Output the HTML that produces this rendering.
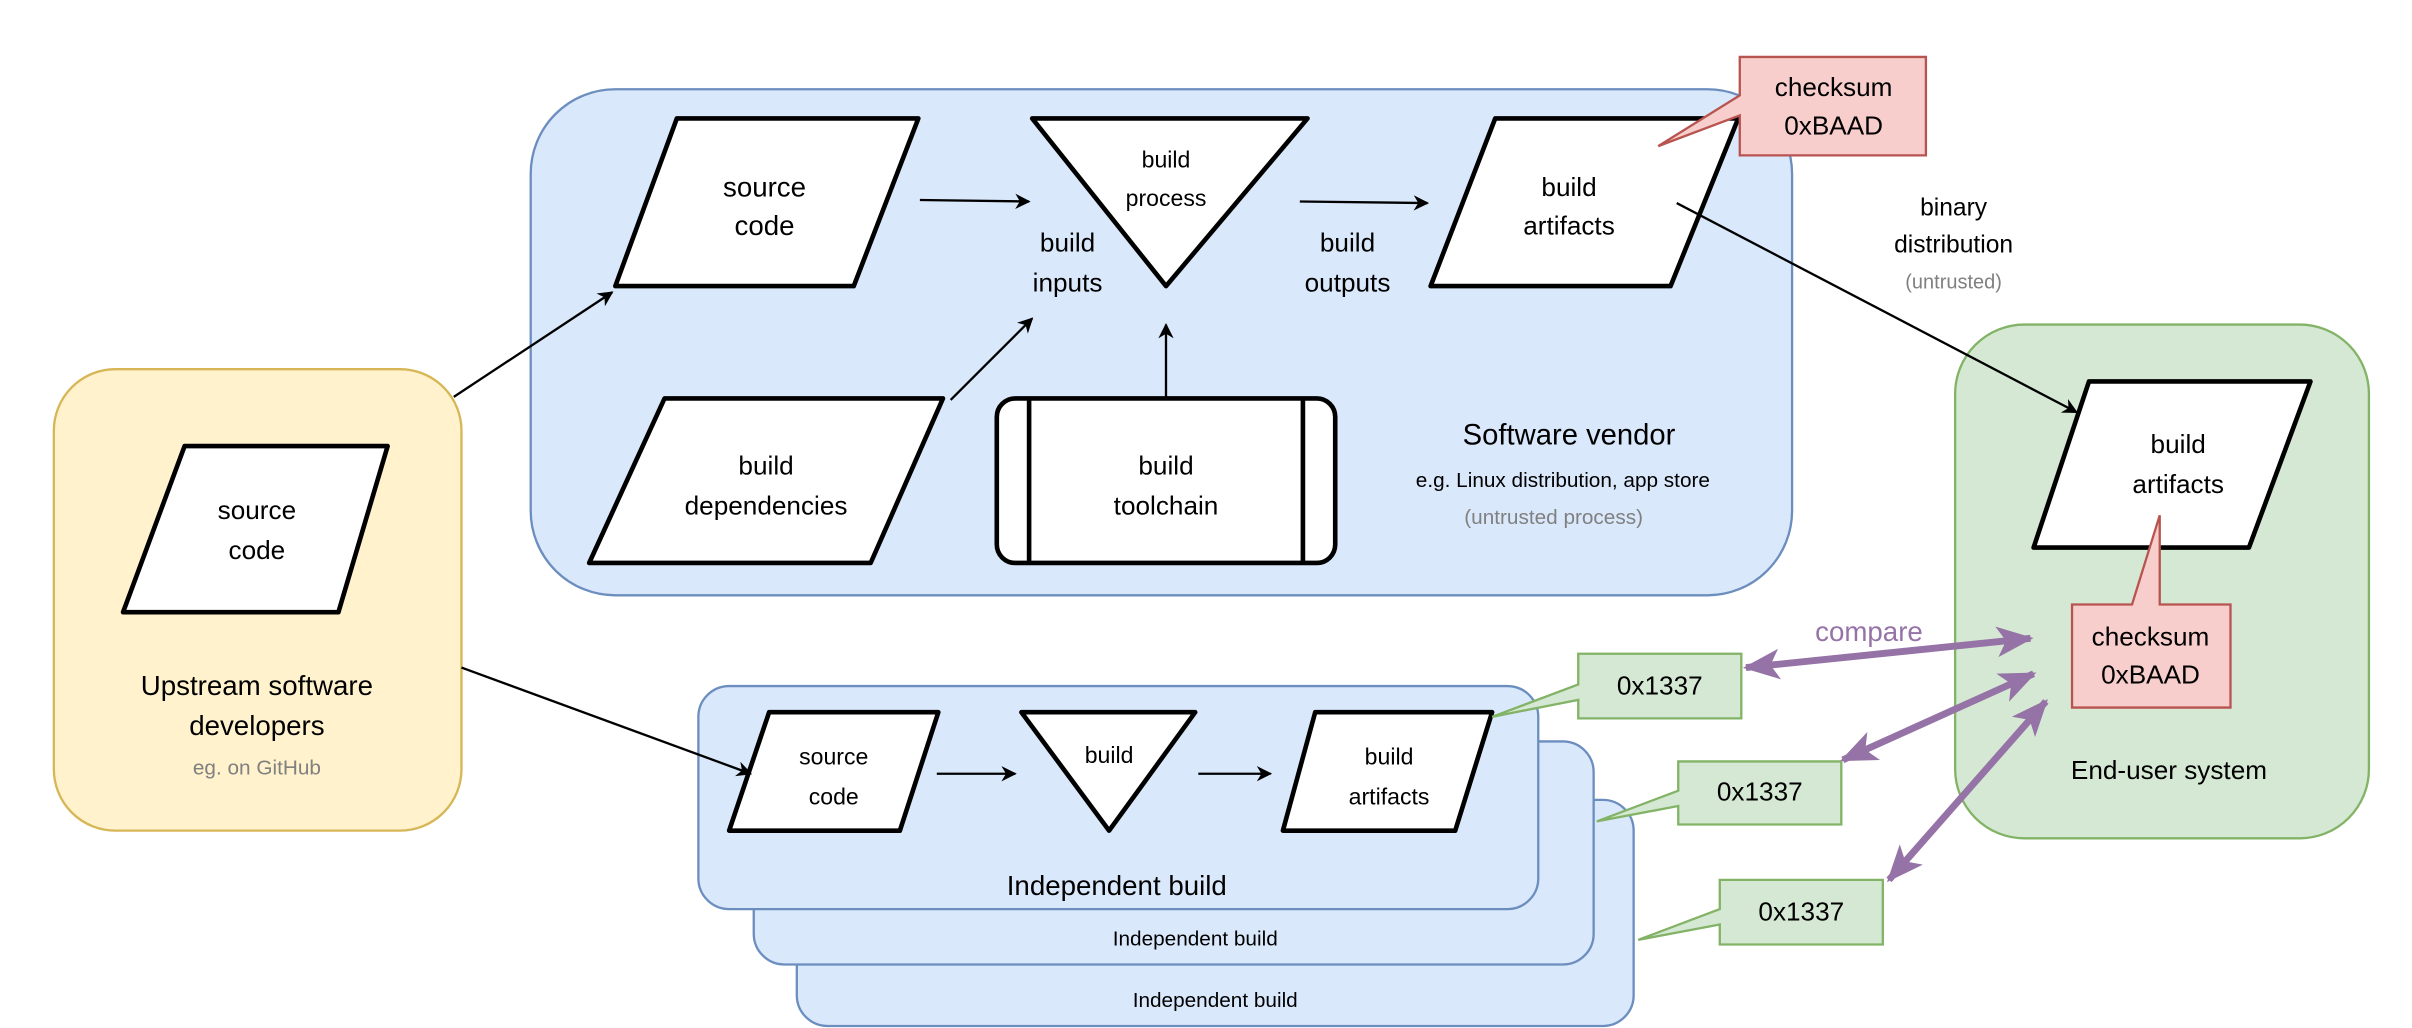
<!DOCTYPE html>
<html><head><meta charset="utf-8"><style>
html,body{margin:0;padding:0;background:#fff;}
svg{display:block;}
text{font-family:"Liberation Sans",sans-serif;text-anchor:middle;dominant-baseline:middle;fill:#000;}
.g{fill:#808080;}
.p{fill:#fff;stroke:#000;stroke-width:3;stroke-linejoin:round;}
.l{stroke:#000;stroke-width:1.5;fill:none;}
.pu{stroke:#9673a6;stroke-width:4.5;fill:none;}
</style></head><body>
<svg width="2412" height="1028" viewBox="0 0 1568 668.3" preserveAspectRatio="none" xmlns="http://www.w3.org/2000/svg">
<defs>
<marker id="a" markerWidth="10" markerHeight="10" refX="9" refY="5" orient="auto" markerUnits="userSpaceOnUse"><path d="M0,0 L10,5 L0,10 L3,5 Z" fill="#000"/></marker>
<marker id="pa" markerWidth="24" markerHeight="20" refX="22" refY="10" orient="auto-start-reverse" markerUnits="userSpaceOnUse"><path d="M0,0 L24,10 L0,20 L6,10 Z" fill="#9673a6"/></marker>
</defs>
<rect width="1568" height="668.3" fill="#fff"/>
<!-- yellow -->
<rect x="35" y="240" width="265" height="300" rx="40" fill="#fff2cc" stroke="#d6b656" stroke-width="1.5"/>
<path class="p" d="M120,290 L252,290 L220,398 L80,398 Z"/>
<text x="167" y="333" font-size="17">source</text><text x="167" y="359" font-size="17">code</text>
<text x="167" y="447" font-size="18">Upstream software</text><text x="167" y="473" font-size="18">developers</text>
<text x="167" y="500" font-size="13.5" class="g">eg. on GitHub</text>
<!-- vendor -->
<rect x="345" y="58" width="820" height="329" rx="55" fill="#dae8fc" stroke="#6c8ebf" stroke-width="1.5"/>
<path class="p" d="M440,77 L597,77 L555,186 L400,186 Z"/>
<text x="497" y="123" font-size="18">source</text><text x="497" y="148" font-size="18">code</text>
<path class="p" d="M671,77 L850,77 L758,186 Z"/>
<text x="758" y="105" font-size="15">build</text><text x="758" y="130" font-size="15">process</text>
<path class="p" d="M972,77 L1130,77 L1086,186 L930,186 Z"/>
<text x="1020" y="123" font-size="17">build</text><text x="1020" y="148" font-size="17">artifacts</text>
<path class="p" d="M432,259 L613,259 L566,366 L383,366 Z"/>
<text x="498" y="304" font-size="17">build</text><text x="498" y="330" font-size="17">dependencies</text>
<rect class="p" x="648" y="259" width="220" height="107" rx="12"/>
<line class="p" x1="669" y1="259" x2="669" y2="366"/><line class="p" x1="847" y1="259" x2="847" y2="366"/>
<text x="758" y="304" font-size="17">build</text><text x="758" y="330" font-size="17">toolchain</text>
<line class="l" x1="598" y1="130" x2="669" y2="131" marker-end="url(#a)"/>
<line class="l" x1="618" y1="260" x2="671" y2="207" marker-end="url(#a)"/>
<line class="l" x1="758" y1="258" x2="758" y2="211" marker-end="url(#a)"/>
<line class="l" x1="845" y1="131" x2="928" y2="132" marker-end="url(#a)"/>
<text x="694" y="159" font-size="17">build</text><text x="694" y="185" font-size="17">inputs</text>
<text x="876" y="159" font-size="17">build</text><text x="876" y="185" font-size="17">outputs</text>
<text x="1020" y="284" font-size="19">Software vendor</text>
<text x="1016" y="313" font-size="13.5">e.g. Linux distribution, app store</text>
<text x="1010" y="337" font-size="13.5" class="g">(untrusted process)</text>
<!-- checksum top -->
<path d="M1131,37 L1252,37 L1252,101 L1131,101 L1131,75 L1078,95 L1131,62 Z" fill="#f8cecc" stroke="#b85450" stroke-width="1.5"/>
<text x="1192" y="58" font-size="17">checksum</text><text x="1192" y="83" font-size="17">0xBAAD</text>
<text x="1270" y="136" font-size="16">binary</text><text x="1270" y="160" font-size="16">distribution</text>
<text x="1270" y="184" font-size="13" class="g">(untrusted)</text>
<!-- green -->
<rect x="1271" y="211" width="269" height="334" rx="45" fill="#d5e8d4" stroke="#82b366" stroke-width="1.5"/>
<path class="p" d="M1358,248 L1502,248 L1462,356 L1322,356 Z"/>
<text x="1416" y="290" font-size="17">build</text><text x="1416" y="316" font-size="17">artifacts</text>
<path d="M1347,393 L1386,393 L1404,335 L1404,393 L1450,393 L1450,460 L1347,460 Z" fill="#f8cecc" stroke="#b85450" stroke-width="1.5"/>
<text x="1398" y="415" font-size="17">checksum</text><text x="1398" y="440" font-size="17">0xBAAD</text>
<text x="1410" y="502" font-size="17">End-user system</text>
<!-- independent builds -->
<rect x="518" y="520" width="544" height="147" rx="20" fill="#dae8fc" stroke="#6c8ebf" stroke-width="1.5"/>
<text x="790" y="651" font-size="13.5">Independent build</text>
<rect x="490" y="482" width="546" height="145" rx="20" fill="#dae8fc" stroke="#6c8ebf" stroke-width="1.5"/>
<text x="777" y="611" font-size="13.5">Independent build</text>
<rect x="454" y="446" width="546" height="145" rx="20" fill="#dae8fc" stroke="#6c8ebf" stroke-width="1.5"/>
<text x="726" y="577" font-size="18">Independent build</text>
<path class="p" d="M500,463 L610,463 L585,540 L474,540 Z"/>
<text x="542" y="493" font-size="15">source</text><text x="542" y="519" font-size="15">code</text>
<line class="l" x1="609" y1="503" x2="660" y2="503" marker-end="url(#a)"/>
<path class="p" d="M664,463 L777,463 L721,540 Z"/>
<text x="721" y="492" font-size="15">build</text>
<line class="l" x1="779" y1="503" x2="826" y2="503" marker-end="url(#a)"/>
<path class="p" d="M855,463 L970,463 L946,540 L834,540 Z"/>
<text x="903" y="493" font-size="15">build</text><text x="903" y="519" font-size="15">artifacts</text>
<!-- green callouts -->
<path d="M1026,425 L1132,425 L1132,467 L1026,467 L1026,455 L970,466 L1026,445 Z" fill="#d5e8d4" stroke="#82b366" stroke-width="1.5"/>
<text x="1079" y="447" font-size="17">0x1337</text>
<path d="M1091,495 L1197,495 L1197,536 L1091,536 L1091,524 L1038,534 L1091,514 Z" fill="#d5e8d4" stroke="#82b366" stroke-width="1.5"/>
<text x="1144" y="516" font-size="17">0x1337</text>
<path d="M1118,572 L1224,572 L1224,614 L1118,614 L1118,601 L1065,611 L1118,591 Z" fill="#d5e8d4" stroke="#82b366" stroke-width="1.5"/>
<text x="1171" y="594" font-size="17">0x1337</text>
<!-- connectors on top -->
<line class="l" x1="1090" y1="132" x2="1350" y2="268" marker-end="url(#a)"/>
<line class="l" x1="295" y1="258" x2="398" y2="190" marker-end="url(#a)"/>
<line class="l" x1="300" y1="434" x2="488" y2="503" marker-end="url(#a)"/>
<!-- purple -->
<line class="pu" x1="1135" y1="434" x2="1320" y2="415" marker-start="url(#pa)" marker-end="url(#pa)"/>
<line class="pu" x1="1198" y1="494" x2="1322" y2="438" marker-start="url(#pa)" marker-end="url(#pa)"/>
<line class="pu" x1="1228" y1="572" x2="1330" y2="456" marker-start="url(#pa)" marker-end="url(#pa)"/>
<text x="1215" y="412" font-size="18" style="fill:#9673a6">compare</text>
</svg>
</body></html>
